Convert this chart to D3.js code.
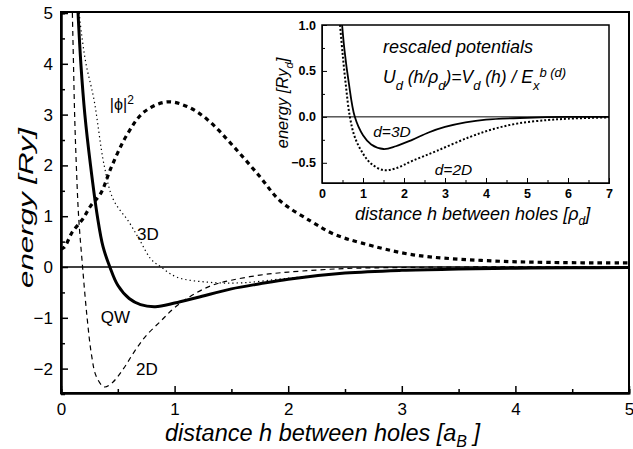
<!DOCTYPE html>
<html>
<head>
<meta charset="utf-8">
<script src="https://cdn.jsdelivr.net/npm/d3@7"></script>
<style>
body { margin:0; background:#fff; }
svg { font-family: "Liberation Sans", Arial, Helvetica, sans-serif; }
.axis path, .axis line { stroke:#000; }
</style>
</head>
<body>
<div id="chart-area"></div>
<script>
// main panel data (h in a_B, energy in Ry)
var qwH = [0.15,0.175,0.21,0.26,0.32,0.37,0.43,0.5,0.6,0.7,0.83,1.0,1.2,1.5,1.75,2.0,2.5,3.0,3.5,4.0,4.5,5.0];
var qwV = [5,4,3,2,1,0.4,0,-0.36,-0.62,-0.74,-0.78,-0.71,-0.6,-0.43,-0.33,-0.24,-0.12,-0.065,-0.04,-0.025,-0.015,-0.01];
var d2H = [0.1,0.11,0.12,0.135,0.155,0.19,0.23,0.27,0.31,0.38,0.45,0.55,0.65,0.75,0.88,1.0,1.15,1.33,1.5,1.75,2.0,2.5,3.0,3.5,5.0];
var d2V = [5,4,3,2,1,0,-1,-1.75,-2.15,-2.36,-2.28,-2.0,-1.65,-1.35,-1.06,-0.8,-0.56,-0.36,-0.26,-0.16,-0.1,-0.03,-0.01,0,0];
var d3H = [0.16,0.18,0.22,0.29,0.38,0.46,0.6,0.7,0.79,0.88,1.02,1.3,1.6,2.0,2.5,3.0,3.5,4.0,5.0];
var d3V = [5,4.6,4.0,3.3,2.0,1.33,0.88,0.5,0.16,0,-0.2,-0.3,-0.31,-0.22,-0.12,-0.06,-0.035,-0.02,0];
var phiH = [0,0.03,0.1,0.19,0.26,0.35,0.44,0.58,0.73,0.93,1.11,1.29,1.52,1.75,1.93,2.2,2.4,2.65,3.1,3.7,4.3,5.0];
var phiV = [0.35,0.39,0.69,0.94,1.2,1.45,1.95,2.6,3.05,3.25,3.16,2.9,2.37,1.78,1.3,0.9,0.65,0.47,0.24,0.13,0.09,0.08];
var xTicks = [0,1,2,3,4,5];
var yTicks = [-2,-1,0,1,2,3,4,5];

// inset data (h in rho_d, energy in Ry_d)
var in3H = [0.49,0.55,0.65,0.8,1.0,1.2,1.5,1.8,2.2,2.6,3.0,3.5,4.0,5.0,6.0,7.0];
var in3V = [1.0,0.72,0.38,0.0,-0.2,-0.3,-0.35,-0.32,-0.25,-0.17,-0.11,-0.06,-0.03,-0.01,0,0];
var in2H = [0.44,0.5,0.58,0.68,0.8,1.0,1.2,1.5,1.8,2.2,2.8,3.6,4.2,4.8,5.5,6.0,7.0];
var in2V = [1.0,0.7,0.35,0.0,-0.22,-0.4,-0.51,-0.58,-0.56,-0.48,-0.37,-0.22,-0.13,-0.07,-0.035,-0.02,-0.005];
var inXTicks = [0,1,2,3,4,5,6,7];
var inYTicks = [-0.5,0,0.5,1.0];

var W = 633, H = 449;
var svg = d3.select("#chart-area").append("svg")
    .attr("width", W).attr("height", H);

function pts(hs, vs) { return hs.map((h,i)=>[h, vs[i]]); }

// ---------- main panel ----------
var m = {left:61, top:13, width:568, height:380};
var g = svg.append("g").attr("transform","translate("+m.left+","+m.top+")");

var x = d3.scaleLinear().domain([0,5]).range([0,m.width]);
var y = d3.scaleLinear().domain([-2.48,5]).range([m.height,0]);

svg.append("clipPath").attr("id","clipMain").append("rect")
    .attr("width", m.width).attr("height", m.height);

var line = d3.line().x(d=>x(d[0])).y(d=>y(d[1])).curve(d3.curveCatmullRom.alpha(0.5));

// zero line
g.append("line").attr("x1",0).attr("x2",m.width)
    .attr("y1",y(0)).attr("y2",y(0)).attr("stroke","#000").attr("stroke-width",1.5);

var curves = g.append("g").attr("clip-path","url(#clipMain)");
curves.append("path").datum(pts(d3H,d3V)).attr("d",line)
    .attr("fill","none").attr("stroke","#000").attr("stroke-width",1.2).attr("stroke-dasharray","1.3,3");
curves.append("path").datum(pts(d2H,d2V)).attr("d",line)
    .attr("fill","none").attr("stroke","#000").attr("stroke-width",1.2).attr("stroke-dasharray","5,4");
curves.append("path").datum(pts(phiH,phiV)).attr("d",line)
    .attr("fill","none").attr("stroke","#000").attr("stroke-width",3.2).attr("stroke-dasharray","4.5,4");
curves.append("path").datum(pts(qwH,qwV)).attr("d",line)
    .attr("fill","none").attr("stroke","#000").attr("stroke-width",3);

// axes: major + minor ticks, inward
g.append("g").attr("class","axis").attr("transform","translate(0,"+m.height+")")
    .call(d3.axisBottom(x).tickValues(d3.range(0.5,5,1)).tickSize(-4).tickFormat(""));
var xa = g.append("g").attr("class","axis").attr("transform","translate(0,"+m.height+")")
    .call(d3.axisBottom(x).tickValues(xTicks).tickSize(-7).tickSizeOuter(0).tickPadding(10)
        .tickFormat(d3.format("d")));
xa.selectAll("text").attr("font-size","17px").attr("fill","#000");
g.append("g").attr("class","axis")
    .call(d3.axisLeft(y).tickValues(d3.range(-2.5,5,1)).tickSize(-4).tickFormat(""));
var ya = g.append("g").attr("class","axis")
    .call(d3.axisLeft(y).tickValues(yTicks).tickSize(-7).tickSizeOuter(0).tickPadding(8)
        .tickFormat(d3.format("d")));
ya.selectAll("text").attr("font-size","17px").attr("fill","#000");
g.selectAll(".axis path").attr("stroke-width",2);
g.selectAll(".axis line").attr("stroke-width",1.5);

g.append("rect").attr("x",0).attr("y",-1).attr("width",m.width).attr("height",m.height+1)
    .attr("fill","none").attr("stroke","#000").attr("stroke-width",2);

// curve labels
g.append("text").attr("x",x(0.43)).attr("y",y(3.1)).attr("font-size","16px")
    .html('|ϕ|<tspan dy="-6" font-size="12px">2</tspan>');
g.append("text").attr("x",x(0.67)).attr("y",y(0.53)).attr("font-size","17px").text("3D");
g.append("text").attr("x",x(0.35)).attr("y",y(-1.1)).attr("font-size","17px").text("QW");
g.append("text").attr("x",x(0.66)).attr("y",y(-2.12)).attr("font-size","17px").text("2D");

// main axis titles
svg.append("text").attr("x",165).attr("y",441).attr("font-size","23.5px").attr("font-style","italic")
    .html('distance h between holes [a<tspan dy="6" font-size="16px">B</tspan><tspan dy="-6"> ]</tspan>');
svg.append("text").attr("transform","translate(33,208) rotate(-90)")
    .attr("text-anchor","middle").attr("font-size","21px").attr("font-style","italic")
    .attr("textLength",160).attr("lengthAdjust","spacingAndGlyphs")
    .text("energy [Ry]");

// ---------- inset ----------
var n = {left:322, top:25, width:287, height:158};
var gi = svg.append("g").attr("transform","translate("+n.left+","+n.top+")");
var xi = d3.scaleLinear().domain([0,7]).range([0,n.width]);
var yi = d3.scaleLinear().domain([-0.72,1.0]).range([n.height,0]);

svg.append("clipPath").attr("id","clipInset").append("rect")
    .attr("width", n.width).attr("height", n.height);

var linei = d3.line().x(d=>xi(d[0])).y(d=>yi(d[1])).curve(d3.curveCatmullRom.alpha(0.5));

gi.append("line").attr("x1",0).attr("x2",n.width)
    .attr("y1",yi(0)).attr("y2",yi(0)).attr("stroke","#000").attr("stroke-width",1);

var ci = gi.append("g").attr("clip-path","url(#clipInset)");
ci.append("path").datum(pts(in2H,in2V)).attr("d",linei)
    .attr("fill","none").attr("stroke","#000").attr("stroke-width",2).attr("stroke-dasharray","2,2");
ci.append("path").datum(pts(in3H,in3V)).attr("d",linei)
    .attr("fill","none").attr("stroke","#000").attr("stroke-width",1.8);

gi.append("g").attr("class","axis").attr("transform","translate(0,"+n.height+")")
    .call(d3.axisBottom(xi).tickValues(d3.range(0.5,7,1)).tickSize(-3).tickFormat(""));
var xia = gi.append("g").attr("class","axis").attr("transform","translate(0,"+n.height+")")
    .call(d3.axisBottom(xi).tickValues(inXTicks).tickSize(-5).tickSizeOuter(0).tickPadding(6)
        .tickFormat(d3.format("d")));
xia.selectAll("text").attr("font-size","12.5px").attr("font-weight","bold").attr("fill","#000");
gi.append("g").attr("class","axis")
    .call(d3.axisLeft(yi).tickValues([-0.25,0.25,0.75]).tickSize(-3).tickFormat(""));
var yia = gi.append("g").attr("class","axis")
    .call(d3.axisLeft(yi).tickValues(inYTicks).tickSize(-5).tickSizeOuter(0).tickPadding(6)
        .tickFormat(d3.format(".1f")));
yia.selectAll("text").attr("font-size","12.5px").attr("font-weight","bold").attr("fill","#000");

gi.append("rect").attr("width",n.width).attr("height",n.height)
    .attr("fill","none").attr("stroke","#000").attr("stroke-width",1.5);

gi.append("text").attr("x",xi(1.25)).attr("y",yi(-0.22)).attr("font-size","15.5px").attr("font-style","italic").text("d=3D");
gi.append("text").attr("x",xi(2.75)).attr("y",yi(-0.63)).attr("font-size","15.5px").attr("font-style","italic").text("d=2D");

svg.append("text").attr("x",383).attr("y",53).attr("font-size","18px").attr("font-style","italic")
    .text("rescaled potentials");
svg.append("text").attr("x",383).attr("y",83).attr("font-size","17.5px").attr("font-style","italic")
    .html('U<tspan dy="7" font-size="13px">d</tspan><tspan dy="-7"> (h/ρ</tspan>' +
          '<tspan dy="7" font-size="13px">d</tspan><tspan dy="-7">)=V</tspan>' +
          '<tspan dy="7" font-size="13px">d</tspan><tspan dy="-7"> (h) / E</tspan>' +
          '<tspan dy="7" font-size="13px">x</tspan><tspan dy="-13" font-size="13px">b (d)</tspan>');

svg.append("text").attr("x",355).attr("y",220).attr("font-size","18px").attr("font-style","italic")
    .html('distance h between holes [ρ<tspan dy="5" font-size="12px">d</tspan><tspan dy="-5">]</tspan>');
svg.append("text").attr("transform","translate(288,103) rotate(-90)")
    .attr("text-anchor","middle").attr("font-size","16.5px").attr("font-style","italic")
    .html('energy [Ry<tspan dy="5" font-size="11px">d</tspan><tspan dy="-5">]</tspan>');
</script>
</body>
</html>
